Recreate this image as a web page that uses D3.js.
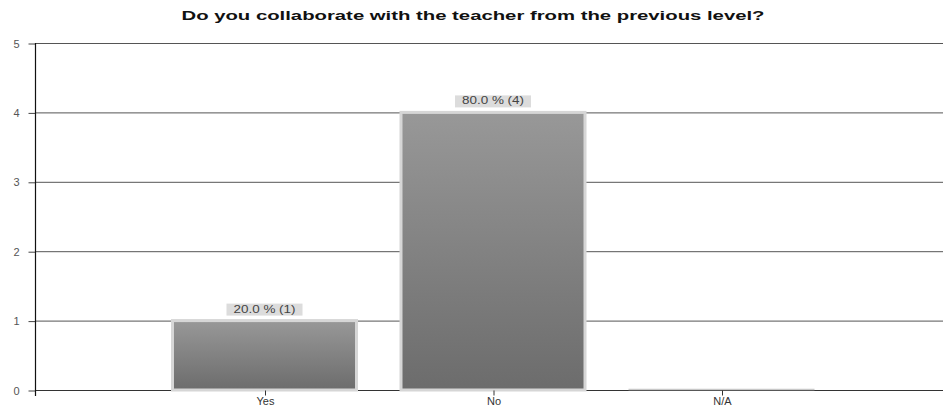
<!DOCTYPE html>
<html><head><meta charset="utf-8">
<script src="https://cdn.jsdelivr.net/npm/d3@7"></script>
<style>body{margin:0;background:#fff}svg{display:block}</style>
</head><body>
<svg id="c" width="943" height="411"></svg>
<script>
const title = "Do you collaborate with the teacher from the previous level?";
const categories = ["Yes", "No", "N/A"];
const counts = [1, 4, 0];
const labels = ["20.0 % (1)", "80.0 % (4)", ""];
const yTicks = [0, 1, 2, 3, 4, 5];

(function () {
const svg = d3.select("#c");
const W = 943;
const mLeft = 36, mTop = 43, mBottom = 390;
const y = d3.scaleLinear().domain([0, 5]).range([mBottom, mTop]);
const x = d3.scaleLinear().domain([0, 4]).range([mLeft, 950]);
const barW = 184;

const defs = svg.append("defs");
const g = defs.append("linearGradient").attr("id", "bg").attr("x1", 0).attr("y1", 0).attr("x2", 0).attr("y2", 1);
g.append("stop").attr("offset", 0).attr("stop-color", "#989898");
g.append("stop").attr("offset", 1).attr("stop-color", "#6c6c6c");

svg.append("text").attr("x", 473).attr("y", 20).attr("text-anchor", "middle")
  .attr("font-family", "Liberation Sans, Arial, sans-serif").attr("font-weight", "bold")
  .attr("font-size", 12).attr("fill", "#111")
  .attr("textLength", 583).attr("lengthAdjust", "spacingAndGlyphs").text(title);

// gridlines
svg.append("g").selectAll("line").data(yTicks).join("line")
  .attr("x1", mLeft).attr("x2", W).attr("y1", d => y(d) + 0.5).attr("y2", d => y(d) + 0.5)
  .attr("stroke", d => d === 0 ? "#333" : "#555").attr("stroke-width", 1);

// y axis
const ya = svg.append("g").attr("transform", `translate(${mLeft - 0.5},0.5)`)
  .call(d3.axisLeft(y).tickValues(yTicks).tickFormat(d3.format("d")).tickSize(7).tickPadding(9));
ya.select(".domain").remove();
ya.selectAll(".tick line").attr("stroke", "#444");
ya.selectAll(".tick text").attr("font-family", "Liberation Sans, Arial, sans-serif")
  .attr("font-size", 11).attr("fill", "#555");
svg.append("line").attr("x1", mLeft - 0.5).attr("x2", mLeft - 0.5).attr("y1", mTop).attr("y2", mBottom + 6)
  .attr("stroke", "#111").attr("stroke-width", 1.2);

// bars
const bars = svg.append("g");
categories.forEach((c, i) => {
  const cx = x(i + 1);
  const v = counts[i];
  if (v > 0) {
    bars.append("rect").attr("x", cx - barW / 2).attr("y", y(v))
      .attr("width", barW).attr("height", y(0) - y(v))
      .attr("fill", "url(#bg)").attr("stroke", "#d6d6d6").attr("stroke-width", 3);
  } else {
    bars.append("line").attr("x1", cx - barW / 2 - 1).attr("x2", cx + barW / 2 + 1)
      .attr("y1", y(0) - 0.5).attr("y2", y(0) - 0.5).attr("stroke", "#c8c8c8").attr("stroke-width", 1.5);
  }
  if (labels[i]) {
    const bw = 76, bh = 12;
    bars.append("rect").attr("x", cx - bw / 2).attr("y", y(v) - bh - 5).attr("width", bw).attr("height", bh)
      .attr("fill", "#dcdcdc");
    bars.append("text").attr("x", cx).attr("y", y(v) - 8).attr("text-anchor", "middle")
      .attr("font-family", "Liberation Sans, Arial, sans-serif").attr("font-size", 10)
      .attr("fill", "#444").attr("textLength", 62).attr("lengthAdjust", "spacingAndGlyphs").text(labels[i]);
  }
});

// x axis ticks & labels
const xa = svg.append("g").attr("transform", `translate(0.5,${mBottom + 0.5})`)
  .call(d3.axisBottom(x).tickValues([1, 2, 3]).tickFormat(d => categories[d - 1]).tickSize(5).tickPadding(2));
xa.select(".domain").remove();
xa.selectAll(".tick line").attr("stroke", "#333");
xa.selectAll(".tick text").attr("font-family", "Liberation Sans, Arial, sans-serif")
  .attr("font-size", 11).attr("fill", "#333");
})();
</script>
</body></html>
